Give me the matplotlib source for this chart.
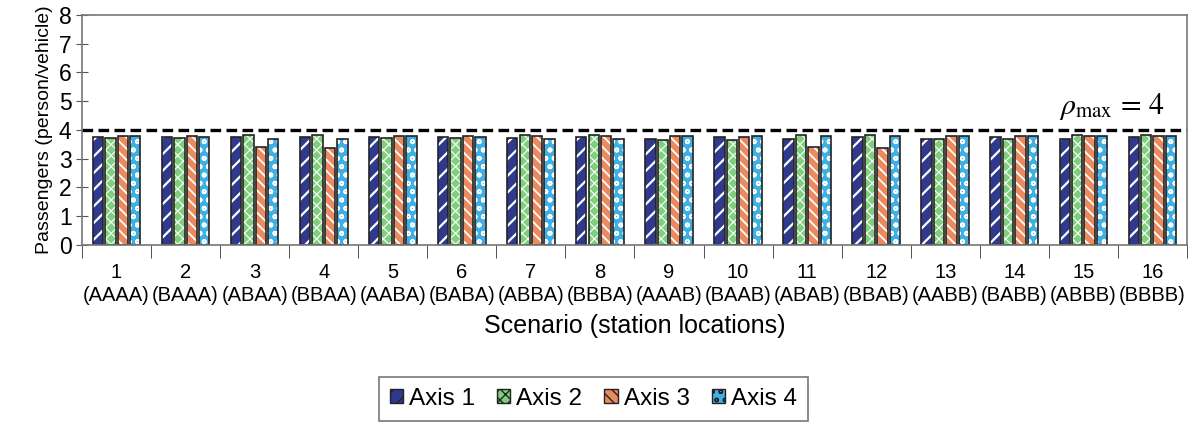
import numpy as np
import matplotlib
matplotlib.use('Agg')
import matplotlib.pyplot as plt
from matplotlib.patches import Patch

# Data
scenarios = ['1\n(AAAA)', '2\n(BAAA)', '3\n(ABAA)', '4\n(BBAA)', '5\n(AABA)', '6\n(BABA)',
             '7\n(ABBA)', '8\n(BBBA)', '9\n(AAAB)', '10\n(BAAB)', '11\n(ABAB)', '12\n(BBAB)',
             '13\n(AABB)', '14\n(BABB)', '15\n(ABBB)', '16\n(BBBB)']
axis1 = [3.75, 3.75, 3.75, 3.75, 3.75, 3.75, 3.73, 3.75, 3.69, 3.75, 3.70, 3.75, 3.70, 3.75, 3.70, 3.75]
axis2 = [3.72, 3.72, 3.82, 3.82, 3.73, 3.73, 3.82, 3.82, 3.65, 3.65, 3.82, 3.82, 3.67, 3.67, 3.82, 3.82]
axis3 = [3.80, 3.80, 3.40, 3.37, 3.80, 3.80, 3.80, 3.78, 3.78, 3.75, 3.39, 3.37, 3.80, 3.80, 3.80, 3.78]
axis4 = [3.80, 3.75, 3.67, 3.67, 3.80, 3.75, 3.67, 3.67, 3.78, 3.78, 3.78, 3.78, 3.78, 3.78, 3.78, 3.80]
rho_max = 4

series = [axis1, axis2, axis3, axis4]
names = ['Axis 1', 'Axis 2', 'Axis 3', 'Axis 4']
colors = ['#2f3a8f', '#7fcf7f', '#ec8a5f', '#3fb0e3']
hatches = ['//', 'xxx', '\\\\\\', 'oo']
hatch_lw = [1.6, 0.8, 1.3, 1.2]

plt.rcParams['font.family'] = ['Liberation Sans', 'DejaVu Sans']
plt.rcParams['mathtext.fontset'] = 'stix'

fig = plt.figure(figsize=(11.94, 4.23), dpi=100)
ax = fig.add_axes([0.0687, 0.421, 0.9254, 0.5435])

x = np.arange(len(scenarios))
w = 0.15
step = 0.18
handles = []
for i, vals in enumerate(series):
    pos = x + (i - 1.5) * step
    # filled bars with white hatch, then outline on top
    with plt.rc_context({'hatch.linewidth': hatch_lw[i]}):
        ax.bar(pos, vals, w, color=colors[i], edgecolor='white', hatch=hatches[i], linewidth=0)
        handles.append(Patch(facecolor=colors[i], edgecolor='#222222', hatch=hatches[i],
                             label=names[i]))
    ax.bar(pos, vals, w, fill=False, edgecolor='#222222', linewidth=1.2)

ax.axhline(rho_max, color='black', linestyle=(0, (3.2, 1.6)), linewidth=2.4)
ax.text(15.18, 4.55, r'$\rho_{\max}\,=\,4$', fontsize=21.5, ha='right', va='baseline')

ax.set_xlim(-0.5, len(scenarios) - 0.5)
ax.set_ylim(0, 8)
ax.set_yticks(range(9))
ax.tick_params(axis='y', direction='inout', length=9, color='#555555', labelsize=16.5, pad=3)
ax.set_xticks(x)
ax.set_xticklabels(scenarios, fontsize=14.5, linespacing=1.3)
ax.tick_params(axis='x', length=0, pad=13)
ax.set_xticks(np.arange(-0.5, len(scenarios)), minor=True)
ax.tick_params(axis='x', which='minor', direction='out', length=9, color='#333333')
for s in ax.spines.values():
    s.set_color('#777777')
    s.set_linewidth(1.2)

ax.set_ylabel('Passengers (person/vehicle)', fontsize=14, labelpad=4)
ax.set_xlabel('Scenario (station locations)', fontsize=18, labelpad=6)

leg = fig.legend(handles=handles, loc='upper center', bbox_to_anchor=(0.497, 0.138), ncol=4,
                 fontsize=17.5, frameon=True, fancybox=False, edgecolor='#555555',
                 handlelength=0.55, handleheight=0.55, handletextpad=0.25, columnspacing=0.9,
                 borderpad=0.45)
leg.get_frame().set_linewidth(1.2)

fig.savefig('out.png', dpi=100)
